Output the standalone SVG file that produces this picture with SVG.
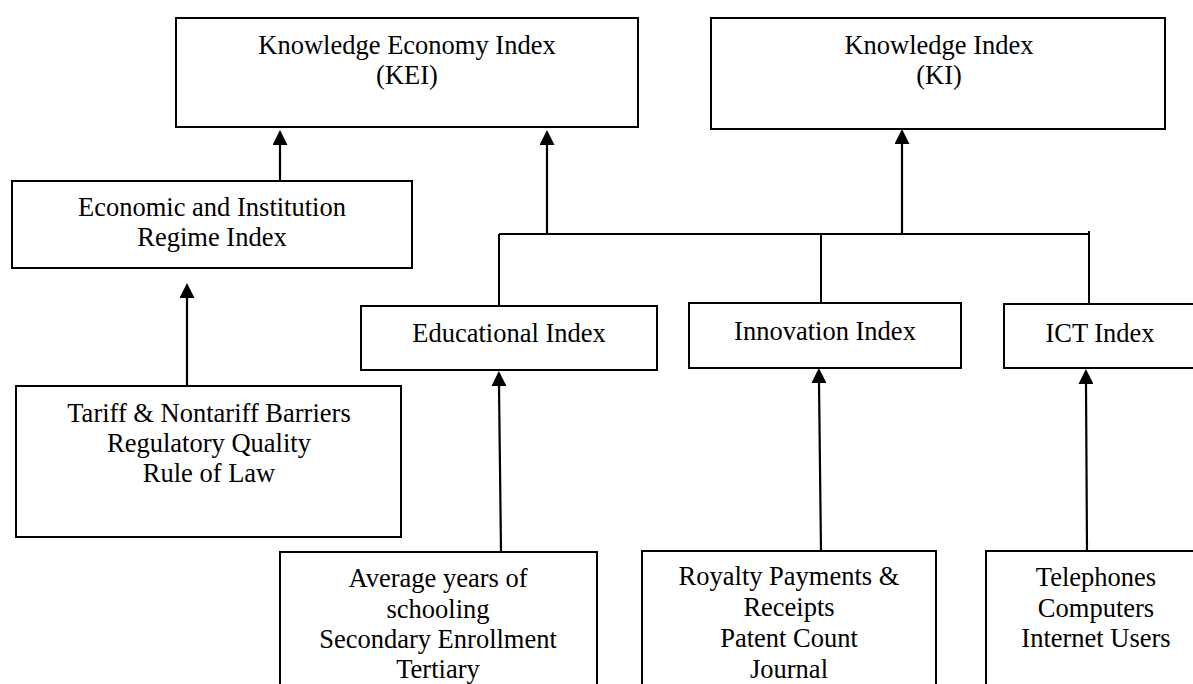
<svg xmlns="http://www.w3.org/2000/svg" width="1193" height="684" viewBox="0 0 1193 684">
<style>
.box{fill:#fff;stroke:#000;stroke-width:2}
.t{font-family:"Liberation Serif","Times New Roman",serif;font-size:26.5px;fill:#000;text-anchor:middle}
.ln{fill:none;stroke:#000;stroke-width:2}
.ar{fill:none;stroke:#000;stroke-width:2.2;marker-end:url(#ah)}
</style>
<defs>
<marker id="ah" viewBox="0 0 15 15" refX="0" refY="7.5" markerWidth="15" markerHeight="15" markerUnits="userSpaceOnUse" orient="auto">
<path d="M0,0 L15,7.5 L0,15 z" fill="#000"/>
</marker>
</defs>
<rect width="1193" height="684" fill="#fff"/>
<g id="connectors">
<path class="ar" d="M280,181 L280,145"/>
<path class="ar" d="M547,234 L547,145"/>
<path class="ar" d="M902,234 L902,144"/>
<path class="ar" d="M187,385 L187,298"/>
<path class="ar" d="M501,551 L499,386"/>
<path class="ar" d="M821,551 L819,383"/>
<path class="ar" d="M1087,551 L1086,384"/>
<path class="ln" d="M499,234 L1089,234"/>
<path class="ln" d="M499,234 L499,306"/>
<path class="ln" stroke-width="1.5" d="M821,234 L821,303"/>
<path class="ln" stroke-width="1.5" d="M1089,231 L1089,304"/>
</g>
<g id="kei">
<rect class="box" x="176" y="18" width="462" height="109"/>
<text class="t" x="407" y="54">Knowledge Economy Index</text>
<text class="t" x="407" y="84">(KEI)</text>
</g>
<g id="ki">
<rect class="box" x="711" y="18" width="454" height="111"/>
<text class="t" x="939" y="54">Knowledge Index</text>
<text class="t" x="939" y="84">(KI)</text>
</g>
<g id="eir">
<rect class="box" x="12" y="181" width="400" height="87"/>
<text class="t" x="212" y="216">Economic and Institution</text>
<text class="t" x="212" y="246">Regime Index</text>
</g>
<g id="tariff">
<rect class="box" x="16" y="386" width="385" height="151"/>
<text class="t" x="209" y="422">Tariff &amp; Nontariff Barriers</text>
<text class="t" x="209" y="452">Regulatory Quality</text>
<text class="t" x="209" y="482">Rule of Law</text>
</g>
<g id="edu">
<rect class="box" x="361" y="306" width="296" height="64"/>
<text class="t" x="509" y="342">Educational Index</text>
</g>
<g id="inno">
<rect class="box" x="689" y="303" width="272" height="65"/>
<text class="t" x="825" y="340">Innovation Index</text>
</g>
<g id="ict">
<rect class="box" x="1004" y="304" width="200" height="64"/>
<text class="t" x="1100" y="342">ICT Index</text>
</g>
<g id="edu-ind">
<rect class="box" x="280" y="552" width="317" height="150"/>
<text class="t" x="438" y="587">Average years of</text>
<text class="t" x="438" y="618">schooling</text>
<text class="t" x="438" y="648">Secondary Enrollment</text>
<text class="t" x="438" y="678">Tertiary</text>
</g>
<g id="inno-ind">
<rect class="box" x="642" y="551" width="294" height="150"/>
<text class="t" x="789" y="585">Royalty Payments &amp;</text>
<text class="t" x="789" y="616">Receipts</text>
<text class="t" x="789" y="647">Patent Count</text>
<text class="t" x="789" y="678">Journal</text>
</g>
<g id="ict-ind">
<rect class="box" x="986" y="551" width="220" height="150"/>
<text class="t" x="1096" y="586">Telephones</text>
<text class="t" x="1096" y="617">Computers</text>
<text class="t" x="1096" y="647">Internet Users</text>
</g>
</svg>
